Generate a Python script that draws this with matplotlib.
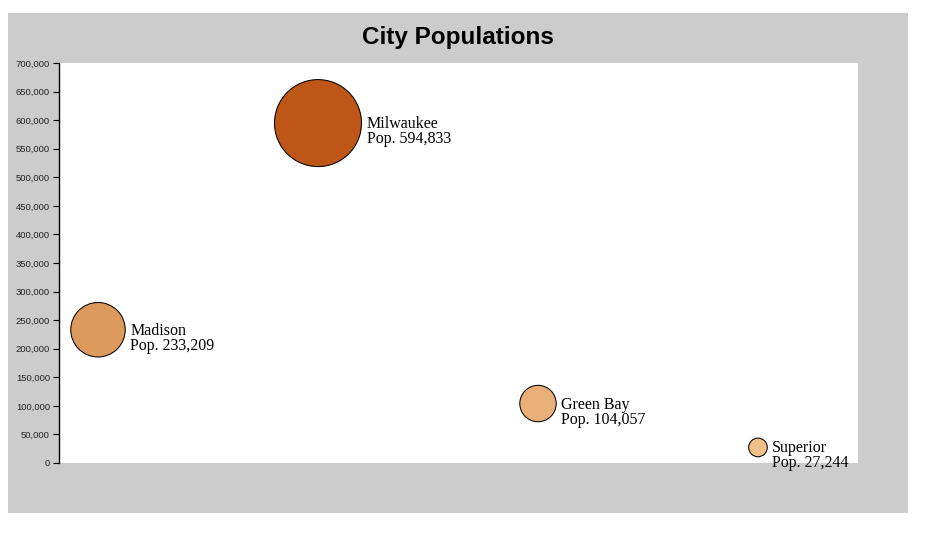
import matplotlib.pyplot as plt
from matplotlib.patches import Rectangle
import numpy as np

cities = ["Madison", "Milwaukee", "Green Bay", "Superior"]
populations = [233209, 594833, 104057, 27244]
colors = ["#DC9A5C", "#BE5617", "#E8B077", "#F0C28A"]
yticks = list(range(0, 700001, 50000))

W, H, DPI = 930, 534, 100
fig = plt.figure(figsize=(W / DPI, H / DPI), dpi=DPI)
fig.patch.set_facecolor("white")

# gray panel behind the chart
fig.patches.append(Rectangle((8 / W, 1 - 513 / H), 900 / W, 500 / H,
                             transform=fig.transFigure, facecolor="#cccccc",
                             edgecolor="none", zorder=-5))

ax = fig.add_axes([59 / W, 1 - 463 / H, 799 / W, 400 / H])
ax.set_facecolor("white")

xs = np.arange(len(cities))
ax.set_xlim(-39 / 220, (799 - 39) / 220)
ax.set_ylim(0, 700000)

# radius in px, area ~ population
rmax = 43.5
r_px = [rmax * np.sqrt(p / max(populations)) for p in populations]
sizes = [(2 * r * 72 / DPI) ** 2 for r in r_px]
ax.scatter(xs, populations, s=sizes, c=colors, edgecolors="black",
           linewidths=0.75, clip_on=False, zorder=3)

for x, p, name, r in zip(xs, populations, cities, r_px):
    dx = (r + 5) * 72 / DPI
    ax.annotate(name, (x, p), xytext=(dx, -5 * 72 / DPI), textcoords="offset points",
                family="Liberation Serif", fontsize=11.5, va="baseline",
                ha="left", annotation_clip=False)
    ax.annotate("Pop. {:,}".format(p), (x, p), xytext=(dx, -20 * 72 / DPI),
                textcoords="offset points", family="Liberation Serif",
                fontsize=11.5, va="baseline", ha="left", annotation_clip=False)

ax.set_yticks(yticks)
ax.set_yticklabels(["{:,}".format(v) for v in yticks], family="Liberation Sans",
                   fontsize=6.8, color="#222222")
ax.tick_params(axis="y", length=4.5, width=0.8, pad=2, color="black")
ax.set_xticks([])
for s in ["top", "right", "bottom"]:
    ax.spines[s].set_visible(False)
ax.spines["left"].set_linewidth(1)

fig.text(458 / W, 1 - 44 / H, "City Populations", ha="center", va="baseline",
         family="Liberation Sans", fontweight="bold", fontsize=17.5)

fig.savefig("out.png", dpi=DPI)
